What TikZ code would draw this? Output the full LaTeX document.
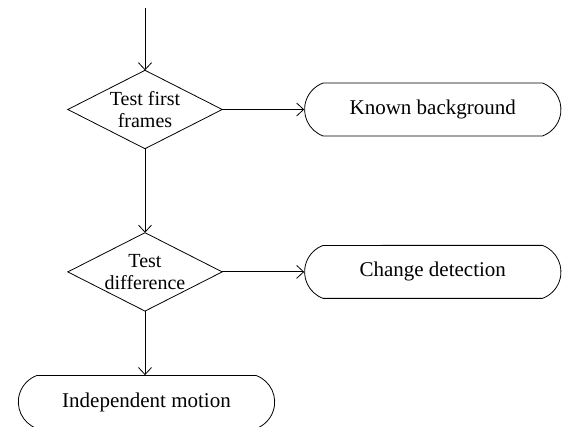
\documentclass[tikz,border=0pt]{standalone}
\usepackage{fontspec}
\setmainfont{Liberation Serif}
\usepackage{tikz}
\usetikzlibrary{shapes.misc, arrows.meta, positioning}
\tikzstyle{arrow} = [line width=0.8pt, -{Straight Barb[length=7pt,width=13pt,line width=0.8pt]}]
\tikzstyle{decision} = [rectangle, minimum width=154pt, minimum height=78pt, inner sep=0pt, align=center, font=\fontsize{20}{22}\selectfont]
\tikzstyle{terminal} = [rounded rectangle, rounded rectangle arc length=140, minimum width=263pt, minimum height=53pt, draw=black, line width=0.8pt, font=\fontsize{21}{23}\selectfont]

\begin{document}
\begin{tikzpicture}[x=1pt, y=-1pt]
		\useasboundingbox (0,0) rectangle (570,427);
		\coordinate (start) at (145,8);
		\node (tff) [decision] at (145,109.5) {Test first\\frames};
		\node (known) [terminal, right=82pt of tff] {Known background};
		\node (tdiff) [decision, below=84pt of tff] {Test\\difference};
		\node (change) [terminal, right=82pt of tdiff] {Change detection};
		\node (indep) [terminal, below=64pt of tdiff, xshift=1.5pt] {Independent motion};
		\foreach \d in {tff, tdiff}
			\draw[line width=0.8pt] (\d.north) -- (\d.east) -- (\d.south) -- (\d.west) -- cycle;
		\draw [arrow] (start) -- (tff.north);
		\draw [arrow] (tff.east) -- (known.west);
		\draw [arrow] (tff.south) -- (tdiff.north);
		\draw [arrow] (tdiff.east) -- (change.west);
		\draw [arrow] (tdiff.south) -- (tdiff.south |- indep.north);
	\end{tikzpicture}
\end{document}
